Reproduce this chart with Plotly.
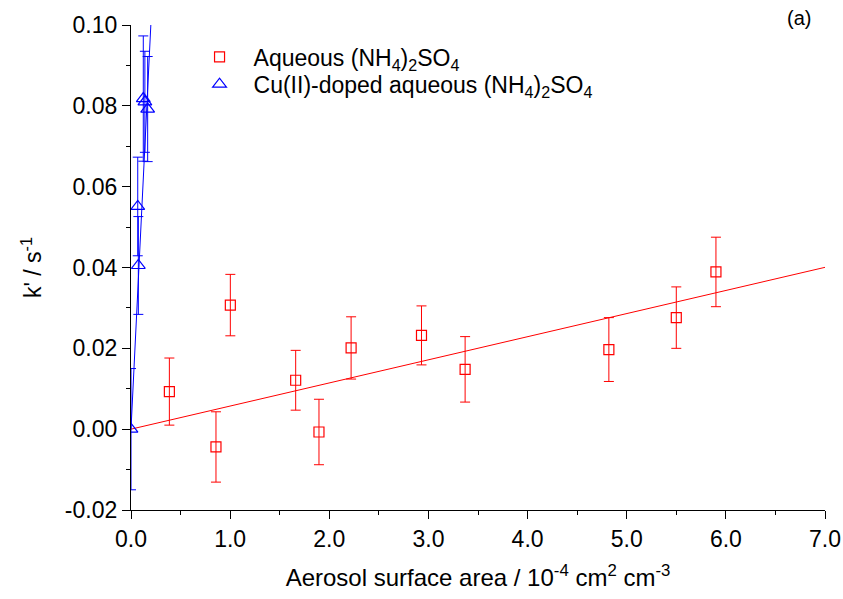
import plotly.graph_objects as go

# Aqueous (NH4)2SO4
red_x = [0.387, 0.857, 1.002, 1.661, 1.896, 2.22, 2.93, 3.37, 4.82, 5.50, 5.90]
red_y = [0.0093, -0.0044, 0.0307, 0.0121, -0.0007, 0.0201, 0.0232, 0.0148, 0.0197, 0.0276, 0.0389]
red_err = [0.0083, 0.0087, 0.0076, 0.0074, 0.0081, 0.0077, 0.0073, 0.0081, 0.0079, 0.0076, 0.0086]

# Cu(II)-doped aqueous (NH4)2SO4
blue_x = [0.0, 0.068, 0.074, 0.124, 0.14, 0.168]
blue_y = [0.0, 0.0551, 0.0405, 0.0818, 0.0810, 0.0792]
blue_err = [0.0150, 0.0122, 0.0121, 0.0155, 0.0125, 0.0130]

# linear fits (through origin)
red_fit_x = [0.0, 7.0]
red_slope = 0.00572
blue_fit_x = [0.0, 0.2]
blue_slope = 0.50

# y tick labels (plain hyphen minus as in the original)
y_tickvals = [-0.02, 0.0, 0.02, 0.04, 0.06, 0.08, 0.10]
y_ticktext = ["-0.02", "0.00", "0.02", "0.04", "0.06", "0.08", "0.10"]

RED = "#FF0000"
BLUE = "#0000FF"
FONT = "Liberation Sans, Arial, sans-serif"

fig = go.Figure()

fig.add_trace(go.Scatter(
    x=red_fit_x, y=[red_slope * v for v in red_fit_x], mode="lines",
    line=dict(color=RED, width=1), showlegend=False, hoverinfo="skip"))
fig.add_trace(go.Scatter(
    x=blue_fit_x, y=[blue_slope * v for v in blue_fit_x], mode="lines",
    line=dict(color=BLUE, width=1), showlegend=False, hoverinfo="skip"))

fig.add_trace(go.Scatter(
    x=red_x, y=red_y, mode="markers", legend="legend",
    name="Aqueous (NH<sub>4</sub>)<sub>2</sub>SO<sub>4</sub>",
    marker=dict(symbol="square-open", size=10, color=RED, line=dict(width=1.2)),
    error_y=dict(type="data", array=red_err, visible=True, color=RED, thickness=1, width=5)))
fig.add_trace(go.Scatter(
    x=blue_x, y=blue_y, mode="markers", legend="legend2",
    name="Cu(II)-doped aqueous (NH<sub>4</sub>)<sub>2</sub>SO<sub>4</sub>",
    marker=dict(symbol="triangle-up-open", size=12, color=BLUE, line=dict(width=1.2)),
    error_y=dict(type="data", array=blue_err, visible=True, color=BLUE, thickness=1, width=5)))

leg_common = dict(xanchor="left", yanchor="middle", bgcolor="rgba(0,0,0,0)",
                  font=dict(size=23), itemwidth=58)

fig.update_layout(
    width=843, height=599,
    margin=dict(l=131, r=18, t=25, b=89),
    paper_bgcolor="white", plot_bgcolor="white",
    font=dict(family=FONT, size=23, color="black"),
    showlegend=True,
    legend=dict(x=0.0786, y=0.934, **leg_common),
    legend2=dict(x=0.0786, y=0.878, **leg_common),
    annotations=[dict(text="(a)", x=0.962, y=1.014, xref="paper", yref="paper",
                      xanchor="center", yanchor="middle",
                      showarrow=False, font=dict(size=20))],
)

fig.update_xaxes(
    range=[0, 7], dtick=1, tick0=0, tickformat=".1f", automargin=False,
    showline=True, linecolor="black", linewidth=1.2, mirror=False,
    ticks="outside", ticklen=8, tickwidth=1.2, tickcolor="black",
    minor=dict(dtick=0.5, ticks="outside", ticklen=4, tickcolor="black", tickwidth=1.2),
    showgrid=False, zeroline=False,
    tickfont=dict(size=23),
    title=dict(text="Aerosol surface area / 10<sup>-4</sup> cm<sup>2</sup> cm<sup>-3</sup>",
               font=dict(size=24), standoff=18),
)
fig.update_yaxes(
    range=[-0.02, 0.10], tickmode="array", tickvals=y_tickvals, ticktext=y_ticktext,
    automargin=False,
    showline=True, linecolor="black", linewidth=1.2, mirror=False,
    ticks="outside", ticklen=8, tickwidth=1.2, tickcolor="black",
    minor=dict(dtick=0.01, tick0=0, ticks="outside", ticklen=4, tickcolor="black", tickwidth=1.2),
    showgrid=False, zeroline=False,
    tickfont=dict(size=23),
    title=dict(text="k' / s<sup>-1</sup>", font=dict(size=23), standoff=16),
)

fig.write_html("out.html", config={"displayModeBar": False},
               post_script="document.body.style.margin='0';")
